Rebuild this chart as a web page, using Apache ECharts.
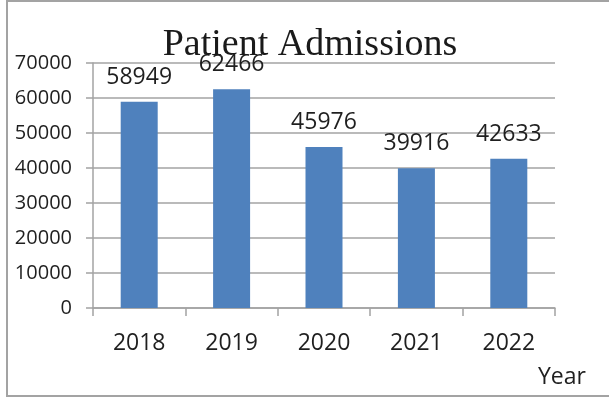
<!DOCTYPE html>
<html>
<head>
<meta charset="utf-8">
<script src="https://cdn.jsdelivr.net/npm/echarts@6/dist/echarts.min.js"></script>
<style>
  html, body { margin: 0; padding: 0; background: #fff; }
  #chart { width: 609px; height: 398px; }
</style>
</head>
<body>
<div id="chart"></div>
<script>
// Yearly patient admissions
const years = ['2018', '2019', '2020', '2021', '2022'];
const admissions = [58949, 62466, 45976, 39916, 42633];
const yMin = 0;
const yMax = 70000;
const yStep = 10000;

const chart = echarts.init(document.getElementById('chart'), null, { renderer: 'canvas' });

const labelFont = '"Open Sans", sans-serif';
const gray = '#a3a3a3';

chart.setOption({
  animation: false,
  backgroundColor: '#fff',
  title: {
    text: 'Patient Admissions',
    left: 305,
    top: 21,
    textAlign: 'center',
    textStyle: {
      fontFamily: '"Liberation Serif", serif',
      fontSize: 38,
      fontWeight: 'normal',
      color: '#1a1a1a'
    }
  },
  grid: { left: 93, right: 54, top: 63, bottom: 90 },
  xAxis: {
    type: 'category',
    data: years,
    axisLine: { show: true, lineStyle: { color: gray, width: 1.5 } },
    axisTick: { show: true, length: 8, alignWithLabel: false, lineStyle: { color: gray, width: 1.5 } },
    axisLabel: { margin: 24, fontFamily: labelFont, fontSize: 23, color: '#1f1f1f' },
    splitLine: { show: false }
  },
  yAxis: {
    type: 'value',
    min: yMin,
    max: yMax,
    interval: yStep,
    axisLine: { show: true, lineStyle: { color: gray, width: 1.5 } },
    axisTick: { show: true, length: 7, lineStyle: { color: gray, width: 1.5 } },
    axisLabel: {
      margin: 21,
      fontFamily: labelFont,
      fontSize: 20,
      color: '#1f1f1f',
      formatter: (v) => String(v)
    },
    splitLine: { show: true, lineStyle: { color: gray, width: 1.5 } }
  },
  series: [{
    type: 'bar',
    data: admissions,
    barWidth: 37,
    itemStyle: { color: '#4f81bd' },
    label: {
      show: true,
      position: 'top',
      distance: 13,
      fontFamily: labelFont,
      fontSize: 23,
      color: '#1f1f1f'
    }
  }],
  graphic: [
    {
      type: 'text',
      left: 538,
      top: 366,
      style: { text: 'Year', font: '23px "Open Sans", sans-serif', fill: '#1f1f1f' }
    },
    // frame: top, left and bottom edges
    {
      type: 'polyline',
      shape: { points: [[609, 1], [7, 1], [7, 396], [609, 396]] },
      style: { fill: null, stroke: gray, lineWidth: 2 },
      silent: true
    }
  ]
});
</script>
</body>
</html>
